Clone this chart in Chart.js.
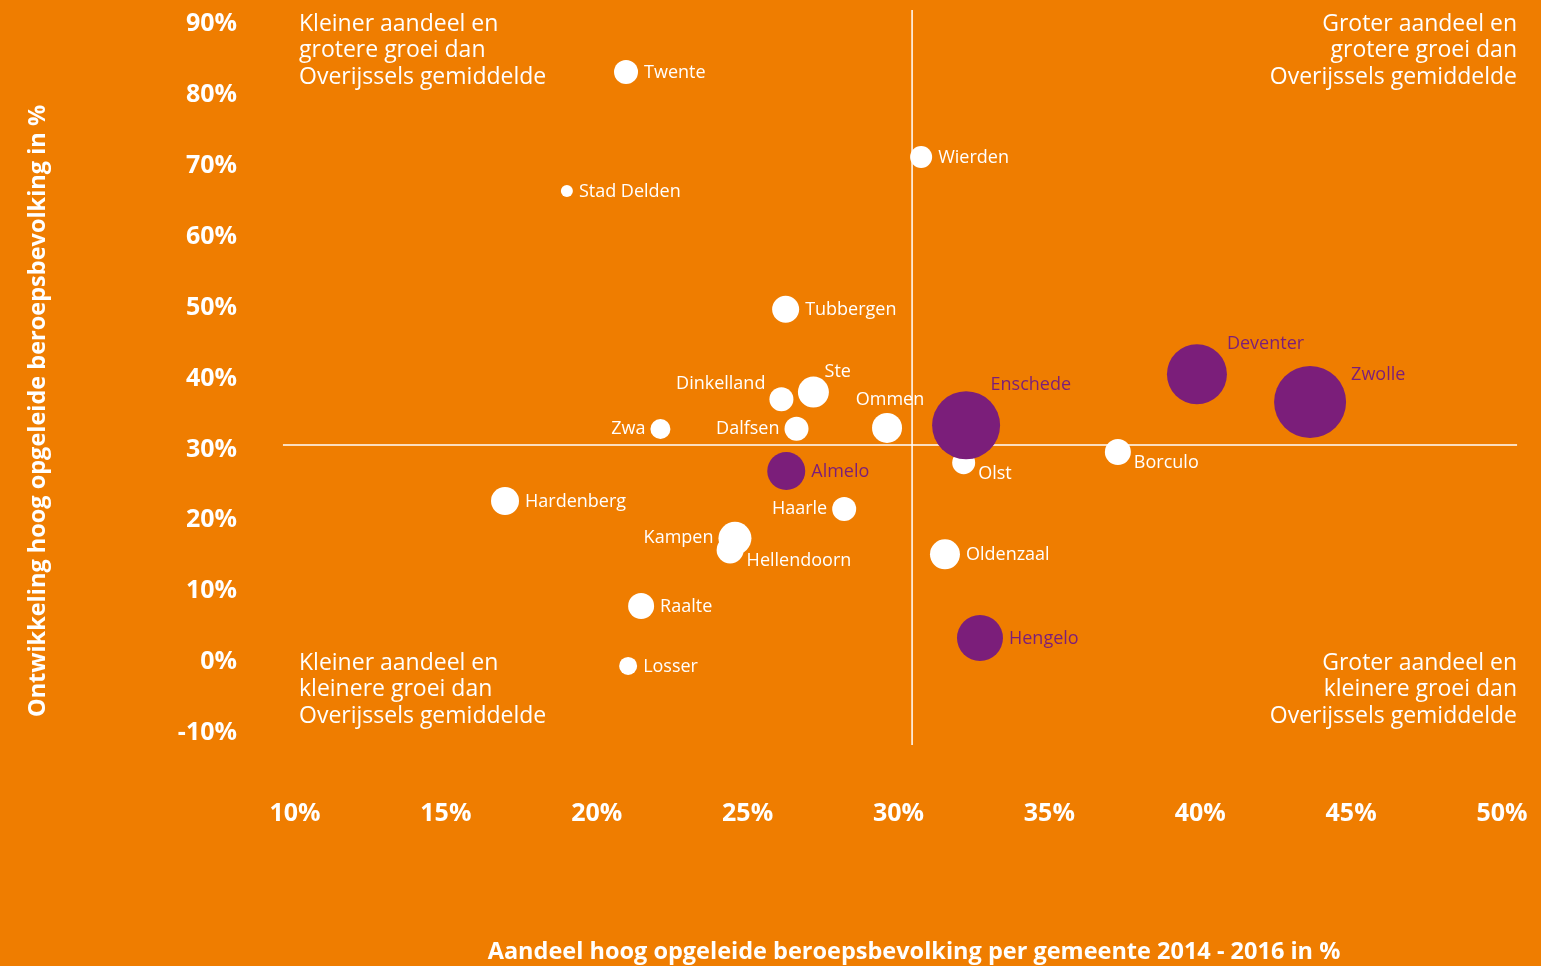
<!DOCTYPE html>
<html lang="nl">
<head>
<meta charset="UTF-8">
<title>Hoog opgeleide beroepsbevolking Overijssel</title>
<script src="https://cdn.jsdelivr.net/npm/chart.js"></script>
<style>
  html, body { margin: 0; padding: 0; background: #EF7D00; overflow: hidden; }
</style>
</head>
<body>
<canvas id="grafiek" width="1541" height="966"></canvas>

<script>
// gemeenten: aandeel hoog opgeleid (x) en ontwikkeling (y), in %
var namen   = ['Twente', 'Wierden', 'Stad Delden', 'Tubbergen', 'Ste', 'Dinkelland', 'Ommen', 'Dalfsen', 'Zwa',
               'Borculo', 'Olst', 'Hardenberg', 'Haarle', 'Kampen', 'Hellendoorn', 'Oldenzaal', 'Raalte', 'Losser'];
var aandeel = [20.97, 30.75, 19.01, 26.26, 27.18, 26.12, 29.62, 26.62, 22.11,
               37.27, 32.16, 16.96, 28.2, 24.58, 24.42, 31.54, 21.47, 21.04];
var groei   = [82.95, 70.96, 66.16, 49.48, 37.8, 36.8, 32.74, 32.64, 32.6,
               29.35, 27.84, 22.44, 21.31, 17.18, 15.53, 14.92, 7.63, -0.83];
var grootte = [12, 11, 6, 13.5, 15.5, 12, 15, 12, 10, 13, 11.5, 14, 12, 16.5, 13.5, 15, 13, 9];
var plek    = ['r', 'r', 'r', 'r', 'ne', 'tl', 't', 'l', 'l', 'br', 'br', 'r', 'l', 'l', 'br', 'r', 'r', 'r'];

// grote steden (paars)
var stadNamen   = ['Deventer', 'Zwolle', 'Enschede', 'Almelo', 'Hengelo'];
var stadAandeel = [39.89, 43.64, 32.24, 26.28, 32.7];
var stadGroei   = [40.31, 36.4, 33.12, 26.67, 3.12];
var stadGrootte = [30, 36, 34, 19, 23];
var stadPlek    = ['tr', 'rt', 'ne', 'r', 'r'];

// Overijssels gemiddelde
var gemAandeel = 30.45;
var gemGroei = 30.34;

var kwadranten = [
  ['Kleiner aandeel en', 'grotere groei dan', 'Overijssels gemiddelde'],
  ['Groter aandeel en', 'grotere groei dan', 'Overijssels gemiddelde'],
  ['Kleiner aandeel en', 'kleinere groei dan', 'Overijssels gemiddelde'],
  ['Groter aandeel en', 'kleinere groei dan', 'Overijssels gemiddelde']
];
var xTitel = 'Aandeel hoog opgeleide beroepsbevolking per gemeente 2014 - 2016 in %';
var yTitel = 'Ontwikkeling hoog opgeleide beroepsbevolking in %';

var ORANJE = '#EF7D00';
var PAARS = '#7B1E7A';
var WIT = '#FFFFFF';

function punten(xs, ys, rs) {
  var p = [];
  for (var i = 0; i < xs.length; i++) p.push({ x: xs[i], y: ys[i], r: rs[i] });
  return p;
}

// achtergrond
var achtergrond = {
  id: 'achtergrond',
  beforeDraw: function (chart) {
    var ctx = chart.ctx;
    ctx.save();
    ctx.fillStyle = ORANJE;
    ctx.fillRect(0, 0, chart.width, chart.height);
    ctx.restore();
  }
};

// namen naast de bollen
var naamLabels = {
  id: 'naamLabels',
  afterDatasetsDraw: function (chart) {
    var ctx = chart.ctx;
    ctx.save();
    ctx.font = '18px "Open Sans"';
    ctx.textBaseline = 'middle';
    chart.data.datasets.forEach(function (ds, di) {
      if (!ds.namen) return;
      var meta = chart.getDatasetMeta(di);
      meta.data.forEach(function (el, i) {
        var r = el.options.radius;
        var x = el.x, y = el.y, align = 'left';
        var p = ds.plekken[i];
        if (p === 'r') { x += r + 6; y += 1; }
        else if (p === 'l') { x -= r + 5; align = 'right'; }
        else if (p === 'tr') { x += r; y -= r; }
        else if (p === 'rt') { x += r + 5; y -= r * 0.75; }
        else if (p === 'ne') { x += r * 0.72; y -= r * 1.1 + 3; }
        else if (p === 'tl') { x -= r + 4; y -= r + 3; align = 'right'; }
        else if (p === 't') { x += 3; y -= r + 13; align = 'center'; }
        else if (p === 'br') { x += r + 3; y += 11; }
        ctx.textAlign = align;
        ctx.fillStyle = ds.tekstKleur;
        ctx.fillText(ds.namen[i], x, y);
      });
    });
    ctx.restore();
  }
};

// kwadrant-teksten en astitels
var teksten = {
  id: 'teksten',
  afterDraw: function (chart) {
    var ctx = chart.ctx, a = chart.chartArea;
    ctx.save();
    ctx.fillStyle = WIT;
    ctx.textBaseline = 'middle';
    ctx.font = '23px "Open Sans"';
    var lh = 26.5;
    var posities = [
      { x: a.left + 4, y: a.top + 2, align: 'left' },
      { x: a.right + 15, y: a.top + 2, align: 'right' },
      { x: a.left + 4, y: a.bottom - 68, align: 'left' },
      { x: a.right + 15, y: a.bottom - 68, align: 'right' }
    ];
    kwadranten.forEach(function (regels, k) {
      ctx.textAlign = posities[k].align;
      regels.forEach(function (t, j) {
        ctx.fillText(t, posities[k].x, posities[k].y + j * lh);
      });
    });

    ctx.font = 'bold 23.5px "Open Sans"';
    ctx.textAlign = 'center';
    ctx.fillText(xTitel, 914, 952);
    ctx.translate(38, 411);
    ctx.rotate(-Math.PI / 2);
    ctx.fillText(yTitel, 0, 0);
    ctx.restore();
  }
};

var ctx = document.getElementById('grafiek').getContext('2d');
var grafiek = new Chart(ctx, {
  type: 'bubble',
  data: {
    datasets: [{
      type: 'line',
      data: [{ x: gemAandeel, y: -11.97 }, { x: gemAandeel, y: 91.7 }],
      borderColor: WIT,
      borderWidth: 1.5,
      pointRadius: 0,
      clip: false,
      order: 3
    }, {
      type: 'line',
      data: [{ x: 9.6, y: gemGroei }, { x: 50.5, y: gemGroei }],
      borderColor: WIT,
      borderWidth: 1.5,
      pointRadius: 0,
      clip: false,
      order: 3
    }, {
      label: 'Gemeenten',
      data: punten(aandeel, groei, grootte),
      backgroundColor: WIT,
      borderWidth: 0,
      namen: namen,
      plekken: plek,
      tekstKleur: WIT,
      clip: false,
      order: 2
    }, {
      label: 'Grote steden',
      data: punten(stadAandeel, stadGroei, stadGrootte),
      backgroundColor: PAARS,
      borderWidth: 0,
      namen: stadNamen,
      plekken: stadPlek,
      tekstKleur: PAARS,
      clip: false,
      order: 1
    }]
  },
  options: {
    responsive: false,
    animation: false,
    devicePixelRatio: 1,
    layout: { autoPadding: false, padding: { top: 22, right: 39, left: 0, bottom: 0 } },
    plugins: {
      legend: { display: false },
      tooltip: { enabled: false }
    },
    scales: {
      x: {
        type: 'linear',
        min: 10,
        max: 50,
        grid: { display: false, drawTicks: false },
        border: { display: false },
        ticks: {
          stepSize: 5,
          padding: 68,
          color: WIT,
          font: { family: 'Open Sans', size: 25, weight: 'bold' },
          callback: function (v) { return v + '%'; }
        },
        afterFit: function (s) { s.height = 235; s.paddingLeft = 0; s.paddingRight = 0; }
      },
      y: {
        type: 'linear',
        min: -10,
        max: 90,
        grid: { display: false, drawTicks: false },
        border: { display: false },
        ticks: {
          stepSize: 10,
          padding: 58,
          labelOffset: 2,
          color: WIT,
          font: { family: 'Open Sans', size: 25, weight: 'bold' },
          callback: function (v) { return v + '%'; }
        },
        afterFit: function (s) { s.width = 295; s.paddingTop = 0; s.paddingBottom = 0; }
      }
    }
  },
  plugins: [achtergrond, naamLabels, teksten]
});
</script>
</body>
</html>
